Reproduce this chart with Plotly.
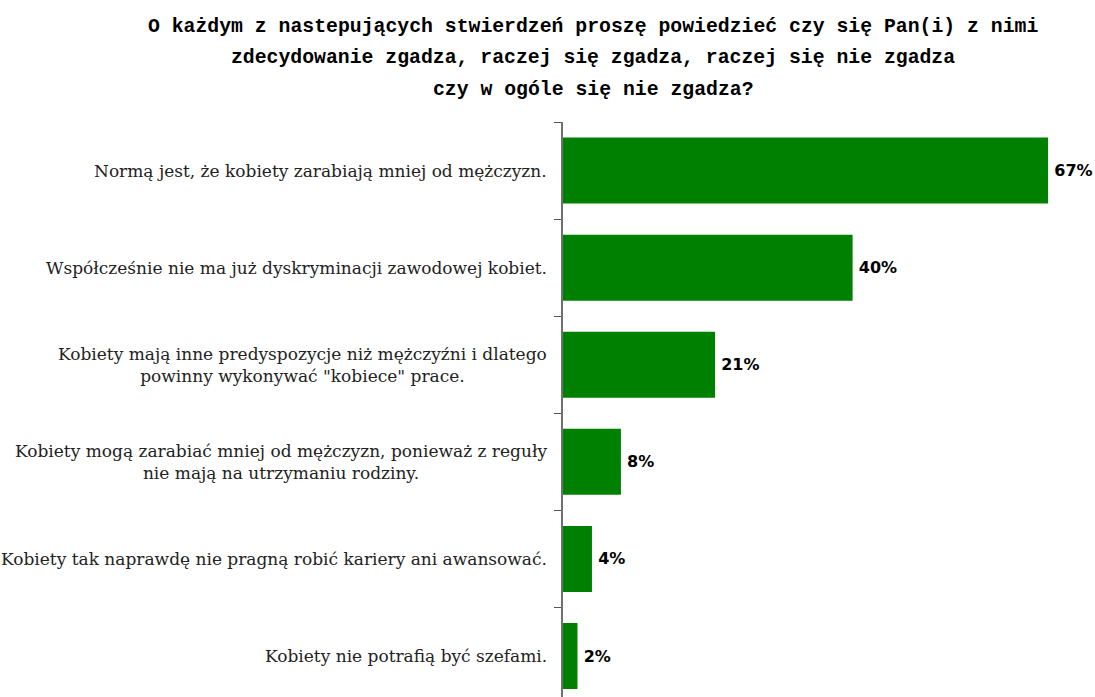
import plotly.graph_objects as go

# Survey statements (top to bottom) and share of respondents agreeing
statements = [
    "Normą jest, że kobiety zarabiają mniej od mężczyzn.",
    "Współcześnie nie ma już dyskryminacji zawodowej kobiet.",
    "Kobiety mają inne predyspozycje niż mężczyźni i dlatego<br>powinny wykonywać \"kobiece\" prace.",
    "Kobiety mogą zarabiać mniej od mężczyzn, ponieważ z reguły<br>nie mają na utrzymaniu rodziny.",
    "Kobiety tak naprawdę nie pragną robić kariery ani awansować.",
    "Kobiety nie potrafią być szefami.",
]
agree_pct = [67, 40, 21, 8, 4, 2]

title_lines = [
    "O każdym z nastepujących stwierdzeń proszę powiedzieć czy się Pan(i) z nimi",
    "zdecydowanie zgadza, raczej się zgadza, raczej się nie zgadza",
    "czy w ogóle się nie zgadza?",
]

W, H = 1095, 697
M_L, M_R, M_T, M_B = 563, 25, 122, 0
plot_w = W - M_L - M_R
plot_h = H - M_T - M_B

ypos = list(range(len(statements)))

fig = go.Figure(
    go.Bar(
        x=agree_pct,
        y=ypos,
        orientation="h",
        marker=dict(color="#008000", line=dict(width=0)),
        width=0.68,
        text=[f"\u2009{v}%" for v in agree_pct],
        textposition="outside",
        textfont=dict(family="DejaVu Sans", size=16, color="black", weight="bold"),
        cliponaxis=False,
        hoverinfo="skip",
    )
)

# Statement labels to the left of the axis (multi-line ones centred)
for i, s in enumerate(statements):
    fig.add_annotation(
        x=0, xref="paper", xanchor="right", xshift=-14,
        y=i, yref="y", yanchor="middle",
        text=s, showarrow=False, align="center",
        font=dict(family="DejaVu Serif", size=17, color="#222222"),
    )

# Three-line title
title_y_px = [27, 58, 90]
title_cx_px = 593
for line, py in zip(title_lines, title_y_px):
    fig.add_annotation(
        x=(title_cx_px - M_L) / plot_w, xref="paper", xanchor="center",
        y=(H - M_B - py) / plot_h, yref="paper", yanchor="middle",
        text=f"<b>{line}</b>", showarrow=False,
        font=dict(family="Liberation Mono", size=19.8, color="black"),
    )

px_per_cat = 97.1
span = plot_h / px_per_cat

fig.update_layout(
    width=W, height=H,
    margin=dict(l=M_L, r=M_R, t=M_T, b=M_B, pad=0),
    plot_bgcolor="white", paper_bgcolor="white",
    showlegend=False,
    xaxis=dict(range=[0, plot_w / 7.24], visible=False, fixedrange=True),
    yaxis=dict(
        range=[-0.5 + span, -0.5],
        tickmode="array",
        tickvals=[i - 0.5 for i in range(len(statements) + 1)],
        ticktext=[""] * (len(statements) + 1),
        ticks="outside", ticklen=7, tickcolor="#555555", tickwidth=1,
        showline=True, linecolor="#707070", linewidth=2,
        showgrid=False, zeroline=False, fixedrange=True,
    ),
)

fig.write_html("out.html", config={"displayModeBar": False})
